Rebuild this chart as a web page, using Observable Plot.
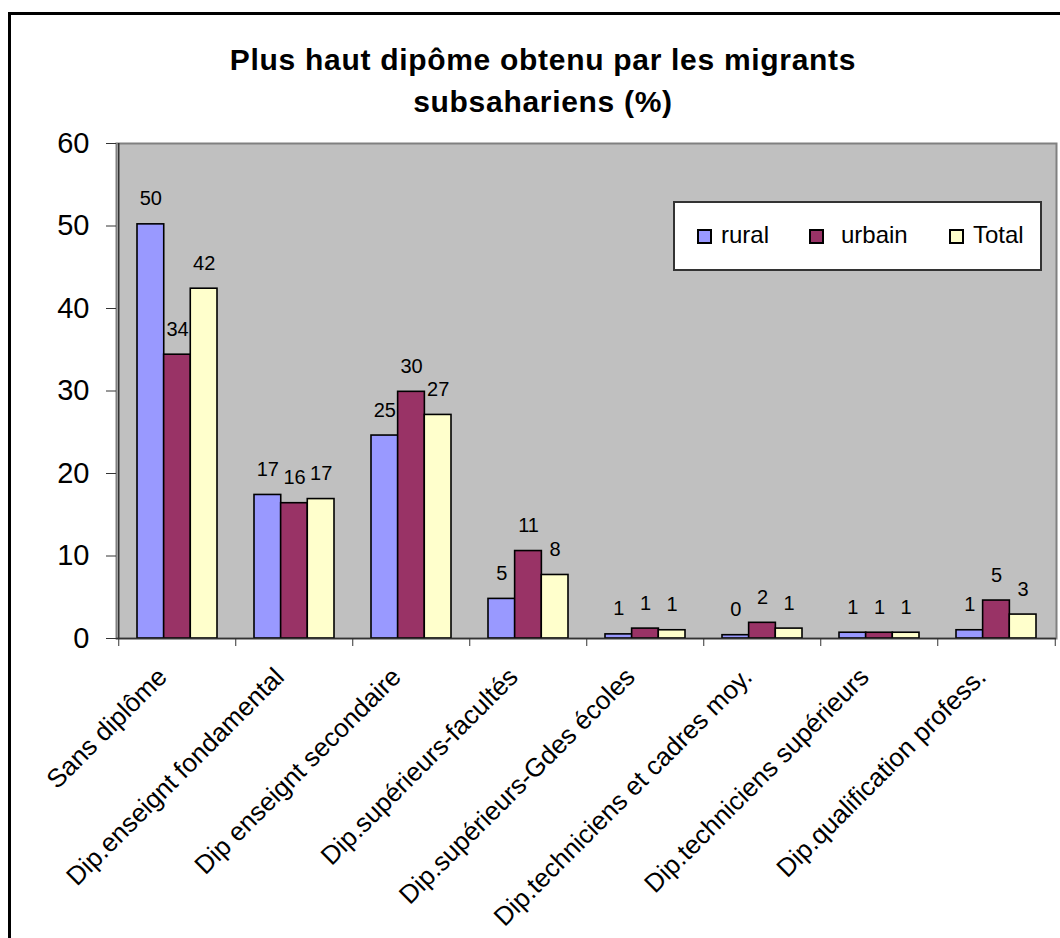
<!DOCTYPE html>
<html>
<head>
<meta charset="utf-8">
<script src="https://cdn.jsdelivr.net/npm/d3@7"></script>
<script src="https://cdn.jsdelivr.net/npm/@observablehq/plot@0.6"></script>
<style>
  html, body { margin: 0; padding: 0; background: #fff; overflow: hidden; }
  #chart { position: relative; width: 1060px; height: 938px; font-family: "Liberation Sans", Arial, sans-serif; color: #000; }
  #border { position: absolute; left: 8px; top: 12px; width: 1200px; height: 1200px; border: 3px solid #000; box-sizing: border-box; }
  #plot { position: absolute; left: 0; top: 0; }
  #title { position: absolute; left: 0; width: 1086px; top: 38.6px; text-align: center; font-weight: bold; font-size: 30px; line-height: 42px; letter-spacing: 0.7px; }
  #legend { position: absolute; left: 673px; top: 201px; width: 369px; height: 70px; box-sizing: border-box; border: 2px solid #333; background: #fff; }
  #legend .sw { position: absolute; top: 26px; width: 15px; height: 15px; box-sizing: border-box; border: 2px solid #000; }
  #legend .lb { position: absolute; top: 20px; font-size: 24px; line-height: 24px; white-space: nowrap; }
</style>
</head>
<body>
<div id="chart">
  <div id="border"></div>
  <div id="plot"></div>
  <div id="title">Plus haut dipôme obtenu par les migrants<br>subsahariens (%)</div>
  <div id="legend"></div>
</div>
<script>
// Diploma categories (x axis)
const categories = [
  "Sans diplôme",
  "Dip.enseignt fondamental",
  "Dip enseignt secondaire",
  "Dip.supérieurs-facultés",
  "Dip.supérieurs-Gdes écoles",
  "Dip.techniciens et cadres moy.",
  "Dip.techniciens supérieurs",
  "Dip.qualification profess."
];

// Series names and their share (%) per category
const series = ["rural", "urbain", "Total"];
const rural  = [50.2, 17.4, 24.6, 4.8, 0.5, 0.4, 0.7, 1.0];
const urbain = [34.4, 16.4, 29.9, 10.6, 1.2, 1.9, 0.7, 4.6];
const total  = [42.4, 16.9, 27.1, 7.7, 1.0, 1.2, 0.7, 2.9];

// Y axis tick values
const yTicks = [0, 10, 20, 30, 40, 50, 60];

const seriesValues = [rural, urbain, total];
const seriesColors = ["#9999FF", "#993366", "#FFFFCC"];

const rows = categories.flatMap((c, i) =>
  series.map((s, j) => ({category: c, series: s, value: seriesValues[j][i]}))
);

// Layout
const W = 1060, H = 938;
const mL = 116, mR = 4, mT = 143, mB = 300;
const padInner = 0.32, padOuter = 0.16;
const step = (W - mL - mR) / (categories.length - padInner + 2 * padOuter);
const bw = step * (1 - padInner);
const sub = bw / 3;
const axisColor = "#333";

const bars = series.map((s, j) =>
  Plot.barY(rows.filter(d => d.series === s), {
    x: "category", y: "value", fill: "series",
    stroke: "#000", strokeWidth: 1.6,
    insetLeft: j * sub, insetRight: (2 - j) * sub
  })
);

const valueLabels = series.map((s, j) =>
  Plot.text(rows.filter(d => d.series === s), {
    x: "category", y: "value",
    text: d => String(Math.round(d.value)),
    dx: (j - 1) * sub, dy: -19, lineAnchor: "bottom",
    fontSize: 20, fill: "#000"
  })
);

const chart = Plot.plot({
  width: W, height: H,
  marginLeft: mL, marginRight: mR, marginTop: mT, marginBottom: mB,
  style: {fontFamily: "Liberation Sans, Arial, sans-serif", background: "transparent", color: "#000"},
  x: {type: "band", domain: categories, paddingInner: padInner, paddingOuter: padOuter, axis: null, label: null},
  y: {domain: [0, 60], axis: null, label: null},
  color: {domain: series, range: seriesColors},
  marks: [
    Plot.frame({fill: "#C0C0C0", stroke: "#808080", strokeWidth: 2}),
    ...bars,
    // category axis line and boundary ticks
    Plot.ruleY([0], {stroke: axisColor, strokeWidth: 1.5}),
    Plot.axisX({tickSize: 8, tickFormat: null, label: null, dx: -step / 2, stroke: axisColor}),
    Plot.axisX({ticks: [categories[categories.length - 1]], tickSize: 8, tickFormat: null, label: null, dx: step / 2, stroke: axisColor}),
    // value axis
    Plot.ruleX([categories[0]], {x: d => d, y1: 0, y2: 60, dx: -step / 2, stroke: axisColor, strokeWidth: 1.5}),
    Plot.axisY({ticks: yTicks, tickSize: 10, tickPadding: 17, fontSize: 29, label: null, stroke: axisColor}),
    // rotated category labels
    Plot.text(categories, {
      x: d => d, frameAnchor: "bottom", rotate: -45,
      textAnchor: "end", lineAnchor: "top",
      dx: -22, dy: 27, fontSize: 26, fill: "#000"
    }),
    ...valueLabels
  ]
});
document.getElementById("plot").appendChild(chart);

// Legend
const legend = d3.select("#legend");
const itemLeft = [22, 134, 274];
series.forEach((s, j) => {
  legend.append("div").attr("class", "sw")
    .style("left", itemLeft[j] + "px")
    .style("background", seriesColors[j]);
  legend.append("div").attr("class", "lb")
    .style("left", (itemLeft[j] + (j === 1 ? 32 : 24)) + "px")
    .text(s);
});
</script>
</body>
</html>
